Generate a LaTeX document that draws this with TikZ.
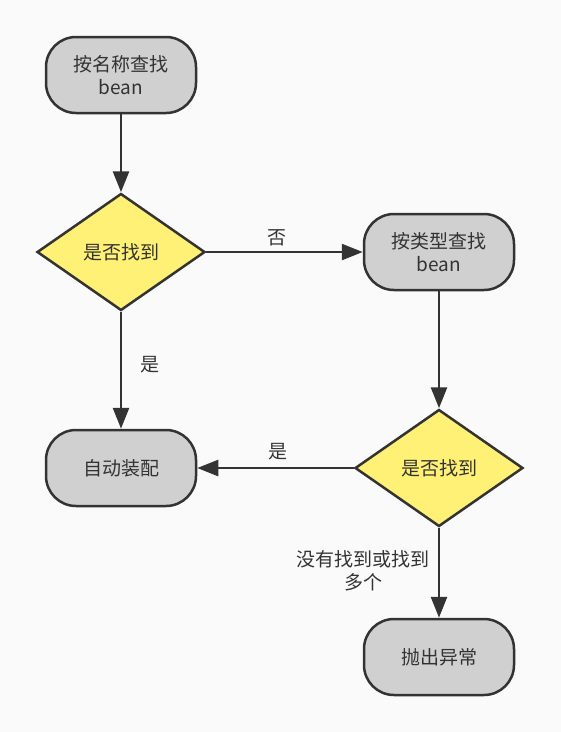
\documentclass[tikz,border=0pt]{standalone}
\usepackage{fontspec}
\setmainfont{Noto Sans CJK SC}
\usetikzlibrary{shapes.geometric,arrows.meta}
\definecolor{bg}{HTML}{FAFAFA}
\definecolor{ink}{HTML}{333333}
\definecolor{boxgray}{HTML}{D0D0D0}
\definecolor{diayellow}{HTML}{FFF176}
\begin{document}
\begin{tikzpicture}[x=1pt,y=-1pt,
  every node/.style={font=\fontsize{19}{23}\selectfont, text=ink},
  term/.style={draw=ink, line width=2.5pt, fill=boxgray, rounded corners=30pt,
    minimum width=150pt, minimum height=76pt, inner sep=0pt, align=center},
  decide/.style={draw=ink, line width=2.5pt, fill=diayellow, diamond,
    minimum width=168pt, minimum height=117pt, inner sep=0pt, align=center},
  flow/.style={draw=ink, line width=2.5pt, -{Triangle[length=21pt,width=16pt]}},
  lab/.style={font=\fontsize{19}{23}\selectfont, align=center, inner sep=0pt}]
\fill[bg] (0,0) rectangle (561,732);
\useasboundingbox (0,0) rectangle (561,732);
\node[term] (find1) at (121,75) {按名称查找\\bean};
\node[decide] (d1) at (121,252) {是否找到};
\node[term] (find2) at (439,252) {按类型查找\\bean};
\node[term] (auto) at (121,468) {自动装配};
\node[decide] (d2) at (439,468) {是否找到};
\node[term] (throw) at (439,657) {抛出异常};
\draw[flow] (find1.south) -- (d1.north);
\draw[flow] (d1.east) -- (find2.west);
\draw[flow] (d1.south) -- (auto.north);
\draw[flow] (find2.south) -- (d2.north);
\draw[flow] (d2.west) -- (auto.east);
\draw[flow] (d2.south) -- (throw.north);
\node[lab] (no1) at (277,238) {否};
\node[lab] (yes1) at (150,365) {是};
\node[lab] (yes2) at (278,452) {是};
\node[lab] (many) at (363,571) {没有找到或找到\\多个};
\end{tikzpicture}
\end{document}
